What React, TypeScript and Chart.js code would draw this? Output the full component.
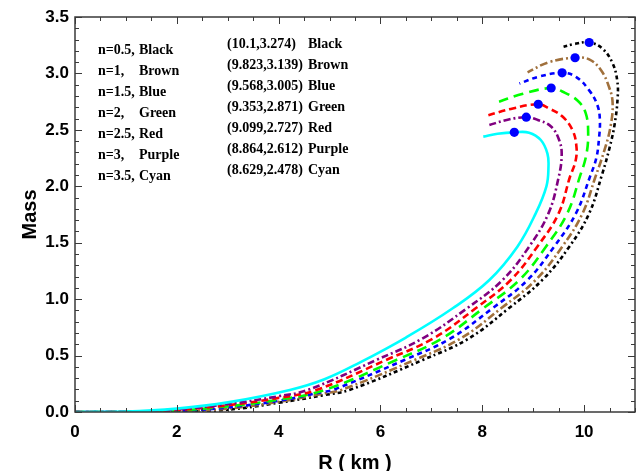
import React, { useEffect, useRef } from "react";
import { Chart, registerables } from "chart.js";

Chart.register(...registerables);

// ---- Axis ticks ----
const xTickValues = [0, 2, 4, 6, 8, 10];
const yTickValues = [0, 0.5, 1, 1.5, 2, 2.5, 3, 3.5];

// ---- Mass-radius curves (R in km, M) ----
const rBlack = [0, 1.0, 2.0, 3.0, 4.0, 4.9, 5.39, 6.83, 7.73, 8.52, 9.18, 9.71, 10.10, 10.35, 10.50, 10.60, 10.66, 10.65, 10.56, 10.36, 10.1, 9.80, 9.54];
const mBlack = [0, 0.0005, 0.002, 0.02, 0.082, 0.15, 0.195, 0.461, 0.65, 0.919, 1.17, 1.465, 1.76, 2.1, 2.34, 2.55, 2.79, 2.94, 3.09, 3.22, 3.274, 3.26, 3.23];

const rBrown = [0, 1.0, 2.0, 3.0, 4.0, 4.9, 5.23, 6.67, 7.57, 8.37, 9.05, 9.57, 9.97, 10.22, 10.40, 10.52, 10.56, 10.49, 10.33, 10.10, 9.823, 9.31, 8.89];
const mBrown = [0, 0.001, 0.005, 0.03, 0.09, 0.165, 0.195, 0.461, 0.65, 0.919, 1.17, 1.465, 1.76, 2.08, 2.32, 2.53, 2.74, 2.88, 3.03, 3.125, 3.139, 3.10, 3.01];

const rBlue = [0, 1.0, 2.0, 3.0, 4.0, 4.9, 5.07, 6.47, 7.37, 8.2, 8.89, 9.41, 9.84, 10.12, 10.24, 10.29, 10.31, 10.26, 10.10, 9.84, 9.568, 9.10, 8.73];
const mBlue = [0, 0.001, 0.009, 0.04, 0.10, 0.18, 0.195, 0.461, 0.65, 0.919, 1.17, 1.465, 1.76, 2.09, 2.25, 2.41, 2.59, 2.72, 2.85, 2.97, 3.005, 2.97, 2.91];

const rGreen = [0, 1.0, 2.0, 3.0, 4.0, 4.90, 6.31, 7.20, 8.02, 8.73, 9.25, 9.67, 9.92, 10.04, 10.08, 10.03, 9.87, 9.57, 9.353, 8.80, 8.33];
const mGreen = [0, 0.001, 0.013, 0.05, 0.11, 0.195, 0.461, 0.65, 0.919, 1.17, 1.465, 1.76, 2.09, 2.27, 2.47, 2.65, 2.76, 2.84, 2.871, 2.82, 2.75];

const rRed = [0, 1.0, 2.0, 3.0, 4.0, 4.74, 6.11, 7.03, 7.87, 8.56, 9.08, 9.50, 9.72, 9.83, 9.85, 9.77, 9.57, 9.31, 9.099, 8.60, 8.12];
const mRed = [0, 0.002, 0.018, 0.06, 0.125, 0.195, 0.461, 0.65, 0.919, 1.17, 1.465, 1.76, 2.08, 2.22, 2.35, 2.50, 2.62, 2.69, 2.727, 2.69, 2.63];

const rPurple = [0, 1.0, 2.0, 3.0, 4.0, 4.57, 5.92, 6.82, 7.70, 8.40, 8.92, 9.30, 9.50, 9.56, 9.51, 9.35, 9.08, 8.864, 8.50, 8.12];
const mPurple = [0, 0.002, 0.022, 0.07, 0.14, 0.195, 0.461, 0.65, 0.919, 1.17, 1.465, 1.76, 2.08, 2.28, 2.41, 2.53, 2.59, 2.612, 2.59, 2.54];

const rCyan = [0, 1.0, 2.0, 3.0, 4.22, 4.9, 5.6, 6.5, 7.42, 8.14, 8.69, 9.05, 9.26, 9.30, 9.28, 9.15, 8.92, 8.629, 8.30, 8.02];
const mCyan = [0, 0.003, 0.03, 0.085, 0.195, 0.29, 0.44, 0.66, 0.919, 1.17, 1.465, 1.76, 2.0, 2.17, 2.29, 2.41, 2.475, 2.478, 2.465, 2.44];

// ---- Maximum-mass points ----
const peakR = [10.1, 9.823, 9.568, 9.353, 9.099, 8.864, 8.629];
const peakM = [3.274, 3.139, 3.005, 2.871, 2.727, 2.612, 2.478];

// ---- Annotation text ----
const nLabels = ["n=0.5,", "n=1,", "n=1.5,", "n=2,", "n=2.5,", "n=3,", "n=3.5,"];
const colorNames = ["Black", "Brown", "Blue", "Green", "Red", "Purple", "Cyan"];
const peakLabels = ["(10.1,3.274)", "(9.823,3.139)", "(9.568,3.005)", "(9.353,2.871)", "(9.099,2.727)", "(8.864,2.612)", "(8.629,2.478)"];

const toPoints = (r: number[], m: number[]) => r.map((x, i) => ({ x, y: m[i] }));

const AXIS_FONT = "'Liberation Sans', Arial, sans-serif";
const NOTE_FONT = "'Liberation Serif', 'Times New Roman', serif";

const framePlugin = {
  id: "frameTicks",
  afterDraw(chart: any) {
    const { ctx, chartArea } = chart;
    const { left, right, top, bottom } = chartArea;
    const xs = chart.scales.x;
    const ys = chart.scales.y;
    ctx.save();
    ctx.strokeStyle = "#3a3a3a";
    ctx.lineWidth = 1.5;
    ctx.strokeRect(left, top, right - left, bottom - top);
    ctx.lineWidth = 1;
    ctx.beginPath();
    for (let i = 0; i <= 22; i++) {
      const v = i * 0.5;
      const px = Math.round(xs.getPixelForValue(v)) + 0.5;
      const len = i % 4 === 0 ? 7 : 4;
      ctx.moveTo(px, bottom);
      ctx.lineTo(px, bottom - len);
      ctx.moveTo(px, top);
      ctx.lineTo(px, top + len);
    }
    for (let i = 0; i <= 35; i++) {
      const v = i * 0.1;
      const py = Math.round(ys.getPixelForValue(v)) + 0.5;
      const len = i % 5 === 0 ? 7 : 4;
      ctx.moveTo(left, py);
      ctx.lineTo(left + len, py);
      ctx.moveTo(right, py);
      ctx.lineTo(right - len, py);
    }
    ctx.stroke();

    // annotations
    ctx.fillStyle = "#000";
    ctx.font = `bold 14px ${NOTE_FONT}`;
    ctx.textBaseline = "middle";
    ctx.textAlign = "left";
    for (let i = 0; i < nLabels.length; i++) {
      const y = top + 33 + i * 21.1;
      ctx.fillText(nLabels[i], left + 23, y);
      ctx.fillText(colorNames[i], left + 64, y);
    }
    for (let i = 0; i < peakLabels.length; i++) {
      const y = top + 27 + i * 21.1;
      ctx.fillText(peakLabels[i], left + 152, y);
      ctx.fillText(colorNames[i], left + 233, y);
    }
    ctx.restore();
  },
};

export default function App() {
  const canvasRef = useRef<HTMLCanvasElement | null>(null);

  useEffect(() => {
    document.body.style.margin = "0";
    const canvas = canvasRef.current;
    if (!canvas) return;
    const lw = 2.6;
    const t = 0.4;
    const chart = new Chart(canvas, {
      type: "scatter",
      data: {
        datasets: [
          {
            label: "peaks",
            data: toPoints(peakR, peakM),
            showLine: false,
            pointRadius: 4.6,
            pointBackgroundColor: "#0000ff",
            pointBorderWidth: 0,
            borderColor: "#0000ff",
          },
          {
            label: "n=3.5",
            data: toPoints(rCyan, mCyan),
            showLine: true,
            borderColor: "#00ffff",
            borderWidth: lw,
            pointRadius: 0,
            tension: t,
          },
          {
            label: "n=3",
            data: toPoints(rPurple, mPurple),
            showLine: true,
            borderColor: "#800080",
            borderWidth: lw,
            borderDash: [7, 3, 2, 3],
            pointRadius: 0,
            tension: t,
          },
          {
            label: "n=2.5",
            data: toPoints(rRed, mRed),
            showLine: true,
            borderColor: "#ff0000",
            borderWidth: lw,
            borderDash: [7, 4],
            pointRadius: 0,
            tension: t,
          },
          {
            label: "n=2",
            data: toPoints(rGreen, mGreen),
            showLine: true,
            borderColor: "#00ff00",
            borderWidth: lw,
            borderDash: [10, 6],
            pointRadius: 0,
            tension: t,
          },
          {
            label: "n=1.5",
            data: toPoints(rBlue, mBlue),
            showLine: true,
            borderColor: "#0000ff",
            borderWidth: lw,
            borderDash: [5, 4],
            pointRadius: 0,
            tension: t,
          },
          {
            label: "n=1",
            data: toPoints(rBrown, mBrown),
            showLine: true,
            borderColor: "#a0703c",
            borderWidth: lw,
            borderDash: [8, 3, 2, 3],
            pointRadius: 0,
            tension: t,
          },
          {
            label: "n=0.5",
            data: toPoints(rBlack, mBlack),
            showLine: true,
            borderColor: "#000000",
            borderWidth: lw,
            borderDash: [4, 3, 2, 3],
            pointRadius: 0,
            tension: t,
          },
        ],
      },
      options: {
        responsive: false,
        animation: false,
        devicePixelRatio: 1,
        layout: { padding: { top: 17, right: 5, left: 0, bottom: 0 } },
        plugins: {
          legend: { display: false },
          tooltip: { enabled: false },
        },
        scales: {
          x: {
            type: "linear",
            min: 0,
            max: 11,
            afterBuildTicks: (s: any) => {
              s.ticks = xTickValues.map((v) => ({ value: v }));
            },
            afterFit: (s: any) => {
              s.height = 59;
            },
            grid: { display: false, drawTicks: false },
            border: { display: false },
            ticks: {
              color: "#000",
              padding: 10,
              maxRotation: 0,
              autoSkip: false,
              font: { family: AXIS_FONT, size: 17, weight: "bold" },
              callback: (v: any) => String(v),
            },
            title: {
              display: true,
              text: "R ( km )",
              color: "#000",
              padding: 0,
              font: { family: AXIS_FONT, size: 20, weight: "bold", lineHeight: 0.8 },
            },
          },
          y: {
            type: "linear",
            min: 0,
            max: 3.5,
            afterBuildTicks: (s: any) => {
              s.ticks = yTickValues.map((v) => ({ value: v }));
            },
            afterFit: (s: any) => {
              s.width = 75;
            },
            grid: { display: false, drawTicks: false },
            border: { display: false },
            ticks: {
              color: "#000",
              padding: 6,
              autoSkip: false,
              font: { family: AXIS_FONT, size: 17, weight: "bold" },
              callback: (v: any) => Number(v).toFixed(1),
            },
            title: {
              display: true,
              text: "Mass",
              color: "#000",
              padding: { top: 18, bottom: 0 },
              font: { family: AXIS_FONT, size: 20, weight: "bold" },
            },
          },
        },
      },
      plugins: [framePlugin],
    } as any);
    return () => chart.destroy();
  }, []);

  return (
    <div style={{ position: "absolute", left: 0, top: 0, width: 640, height: 471, background: "#fff" }}>
      <canvas ref={canvasRef} width={640} height={471} />
    </div>
  );
}
